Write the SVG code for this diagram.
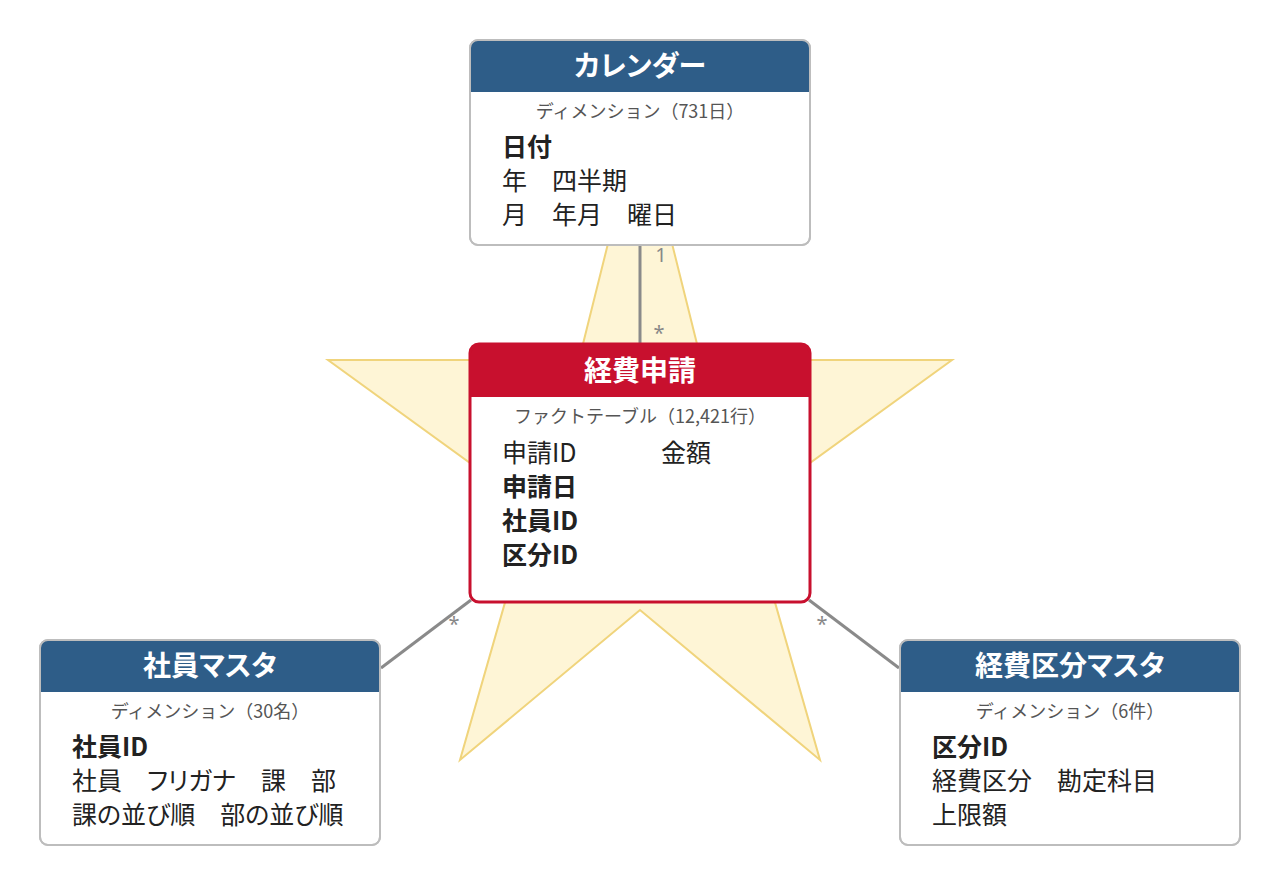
<svg xmlns="http://www.w3.org/2000/svg" width="1280" height="880" viewBox="0 0 1280 880">
<style>
text{font-family:"Noto Sans CJK JP","Noto Sans",sans-serif;font-feature-settings:"palt" 1}
.star{fill:#FEF5D6;stroke:#F0D47C;stroke-width:2;stroke-linejoin:miter}
.card{fill:#FFFFFF;stroke:#BDBDBD;stroke-width:2}
.cardbd{fill:none;stroke:#BDBDBD;stroke-width:2}
.fact{fill:none;stroke:#C8102E;stroke-width:3}
.hdim{fill:#2E5D88}
.hfact{fill:#C8102E}
.title{fill:#FFFFFF;font-size:28px;font-weight:700;text-anchor:middle}
.sub{fill:#555555;font-size:18px;text-anchor:middle;font-feature-settings:normal}
.f{fill:#222222;font-size:25px}
.k{fill:#222222;font-size:25px;font-weight:700}
.conn{stroke:#8A8A8A;stroke-width:3;fill:none}
.lbl{fill:#888888;font-size:20px;text-anchor:middle;font-family:"Noto Sans","Liberation Sans",sans-serif}
</style>
<polygon class="star" points="640,115 701,360 952,360 748,508 820,760 640,610 460,760 532,508 328,360 579,360"/>
<g id="connectors">
<line class="conn" x1="640" y1="245" x2="640" y2="344"/>
<line class="conn" x1="381" y1="668" x2="471" y2="600"/>
<line class="conn" x1="809" y1="600" x2="899" y2="668"/>
<text class="lbl" x="661" y="262">1</text>
<text class="lbl" x="659" y="340">*</text>
<text class="lbl" x="454" y="631">*</text>
<text class="lbl" x="822" y="631">*</text>
</g>
<g id="calendar">
<rect class="card" x="470" y="40" width="340" height="205" rx="8"/>
<path class="hdim" d="M470,92 V48 Q470,40 478,40 H802 Q810,40 810,48 V92 Z"/>
<rect class="cardbd" x="470" y="40" width="340" height="205" rx="8"/>
<text class="title" x="640" y="76">カレンダー</text>
<text class="sub" x="640" y="118">ディメンション（731日）</text>
<text class="k" x="502" y="156">日付</text>
<text class="f" x="502" y="190">年　四半期</text>
<text class="f" x="502" y="224">月　年月　曜日</text>
</g>
<g id="expense">
<rect x="470" y="344" width="340" height="258" rx="9" fill="#FFFFFF"/>
<path class="hfact" d="M470,397 V353 Q470,344 479,344 H801 Q810,344 810,353 V397 Z"/>
<rect class="fact" x="470" y="344" width="340" height="258" rx="9"/>
<text class="title" x="640" y="381">経費申請</text>
<text class="sub" x="640" y="423">ファクトテーブル（12,421行）</text>
<text class="f" x="502" y="462">申請ID</text>
<text class="f" x="661" y="462">金額</text>
<text class="k" x="502" y="496">申請日</text>
<text class="k" x="502" y="530">社員ID</text>
<text class="k" x="502" y="564">区分ID</text>
</g>
<g id="employee">
<rect class="card" x="40" y="640" width="340" height="205" rx="8"/>
<path class="hdim" d="M40,692 V648 Q40,640 48,640 H372 Q380,640 380,648 V692 Z"/>
<rect class="cardbd" x="40" y="640" width="340" height="205" rx="8"/>
<text class="title" x="210" y="676">社員マスタ</text>
<text class="sub" x="210" y="718">ディメンション（30名）</text>
<text class="k" x="72" y="756">社員ID</text>
<text class="f" x="72" y="790">社員　フリガナ　課　部</text>
<text class="f" x="72" y="824">課の並び順　部の並び順</text>
</g>
<g id="category">
<rect class="card" x="900" y="640" width="340" height="205" rx="8"/>
<path class="hdim" d="M900,692 V648 Q900,640 908,640 H1232 Q1240,640 1240,648 V692 Z"/>
<rect class="cardbd" x="900" y="640" width="340" height="205" rx="8"/>
<text class="title" x="1070" y="676">経費区分マスタ</text>
<text class="sub" x="1070" y="718">ディメンション（6件）</text>
<text class="k" x="932" y="756">区分ID</text>
<text class="f" x="932" y="790">経費区分　勘定科目</text>
<text class="f" x="932" y="824">上限額</text>
</g>
</svg>
